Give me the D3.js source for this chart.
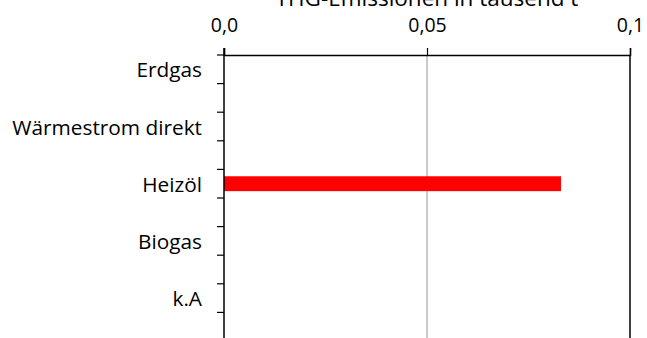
<!DOCTYPE html>
<html>
<head>
<meta charset="utf-8">
<script src="https://cdn.jsdelivr.net/npm/d3@7"></script>
<style>
  html, body { margin: 0; padding: 0; background: #fff; }
  svg { display: block; }
  text { font-family: "Open Sans", "Noto Sans", sans-serif; fill: #000; }
</style>
</head>
<body>
<script>
const title = "THG-Emissionen in tausend t";
const categories = ["Erdgas", "", "Wärmestrom direkt", "", "Heizöl", "", "Biogas", "", "k.A", ""];
const values = [0, 0, 0, 0, 0.083, 0, 0, 0, 0, 0];
const tickValues = [0, 0.05, 0.1];
const tickLabels = ["0,0", "0,05", "0,1"];

(function () {
const W = 647, H = 338;
const pLeft = 224, pRight = 630, pTop = 55, pBottom = 341;

const svg = d3.select("body").append("svg").attr("width", W).attr("height", H);

const x = d3.scaleLinear().domain([0, 0.1]).range([pLeft, pRight]);
const y = d3.scaleBand().domain(d3.range(categories.length)).range([pTop, pBottom]).paddingInner(0.48).paddingOuter(0.24);
const yb = d3.scaleBand().domain(d3.range(categories.length)).range([pTop, pBottom]);

// gridline at 0.05
svg.append("line").attr("x1", x(0.05)).attr("x2", x(0.05)).attr("y1", pTop).attr("y2", H)
  .attr("stroke", "#a6a6a6").attr("stroke-width", 1.2);
// right border line at 0.1
svg.append("line").attr("x1", x(0.1)).attr("x2", x(0.1)).attr("y1", pTop).attr("y2", H)
  .attr("stroke", "#000").attr("stroke-width", 1.5);

// bars
svg.selectAll("rect.bar").data(values.map((v, i) => ({v, i})).filter(d => d.v > 0))
  .enter().append("rect")
  .attr("x", x(0)).attr("y", d => y(d.i))
  .attr("width", d => x(d.v) - x(0)).attr("height", y.bandwidth())
  .attr("fill", "#ff0000");

// top axis
const xAxis = d3.axisTop(x).tickValues(tickValues).tickFormat((d, i) => tickLabels[i]).tickSize(7).tickPadding(0);
const gx = svg.append("g").attr("transform", `translate(0,${pTop})`).call(xAxis);
gx.select(".domain").attr("stroke", "#000").attr("stroke-width", 1.5);
gx.selectAll(".tick line").attr("stroke", "#000").attr("stroke-width", 1.2);
gx.selectAll(".tick text").attr("y", 32 - pTop).attr("dy", null)
  .style("font-size", "19.5px").style("font-family", "'Open Sans', sans-serif");

// left axis lines and ticks
svg.append("line").attr("x1", pLeft).attr("x2", pLeft).attr("y1", pTop - 7).attr("y2", H)
  .attr("stroke", "#000").attr("stroke-width", 1.5);
const boundaries = categories.map((c, i) => yb(i));
svg.selectAll("line.ytick").data(boundaries).enter().append("line")
  .attr("x1", pLeft - 7).attr("x2", pLeft).attr("y1", d => d).attr("y2", d => d)
  .attr("stroke", "#000").attr("stroke-width", 1.2);

// category labels
svg.selectAll("text.cat").data(categories.map((c, i) => ({c, i})).filter(d => d.c !== ""))
  .enter().append("text")
  .attr("x", pLeft - 22).attr("y", d => yb(d.i) + yb.bandwidth() / 2)
  .attr("text-anchor", "end").attr("dominant-baseline", "central")
  .style("font-size", "20.8px")
  .text(d => d.c);

// title
svg.append("text").attr("x", x(0.05)).attr("y", 6).attr("text-anchor", "middle")
  .style("font-size", "22.5px").text(title);
})();
</script>
</body>
</html>
